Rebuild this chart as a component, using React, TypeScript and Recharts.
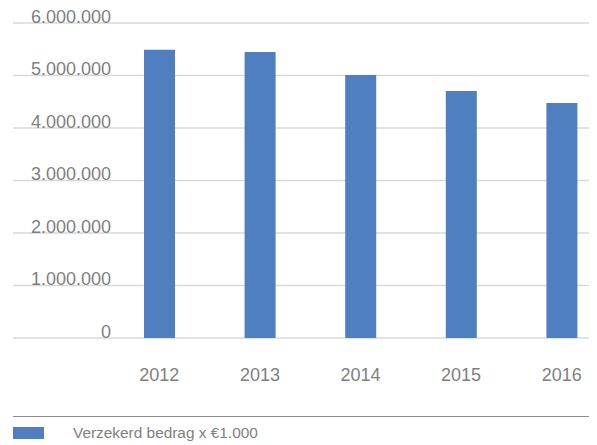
import { BarChart, Bar, CartesianGrid, XAxis, YAxis, Legend } from "recharts"

const years = ["2012", "2013", "2014", "2015", "2016"]
const amounts = [5490000, 5450000, 5010000, 4705000, 4475000]
const yTicks = [0, 1000000, 2000000, 3000000, 4000000, 5000000, 6000000]

const seriesName = "Verzekerd bedrag x €1.000"

const data = years.map((year, i) => ({ year, value: amounts[i] }))

const gray = "#7f7f7f"
const blue = "#4f7fc1"
const font = "'Liberation Sans', Arial, sans-serif"

const fmt = (v: number) => v.toLocaleString("de-DE")

function YTick(props: any) {
  const { y, payload } = props
  return (
    <text x={103} y={y - 6.5} dy="0.355em" textAnchor="end" fill={gray} fontSize={18} fontFamily={font}>
      {fmt(payload.value)}
    </text>
  )
}

function LegendBox() {
  return (
    <div style={{ marginLeft: 5, width: 584, height: 29, borderTop: "1px solid #8c8c8c", position: "relative", fontFamily: font }}>
      <div style={{ position: "absolute", left: 0, top: 10, width: 31, height: 12, background: blue }} />
      <span style={{ position: "absolute", left: 60, top: 7, fontSize: 15.4, color: gray, whiteSpace: "nowrap" }}>{seriesName}</span>
    </div>
  )
}

export default function App() {
  return (
    <div style={{ width: 589, height: 437, overflow: "hidden" }}>
      <BarChart width={604} height={437} data={data} margin={{ top: 15, right: 0, left: 5, bottom: 0 }}>
        <CartesianGrid vertical={false} stroke="#d9d9d9" strokeWidth={1.5} />
        <XAxis
          dataKey="year"
          axisLine={false}
          tickLine={false}
          tickSize={0}
          tickMargin={30}
          height={78}
          padding={{ left: 96, right: 0 }}
          tick={{ fill: gray, fontSize: 18, fontFamily: font }}
        />
        <YAxis
          mirror
          width={100}
          domain={[0, 6000000]}
          ticks={yTicks}
          interval={0}
          axisLine={false}
          tickLine={false}
          tick={<YTick />}
        />
        <Legend verticalAlign="bottom" align="left" wrapperStyle={{ left: 0, width: 604, height: 29 }} content={<LegendBox />} />
        <Bar dataKey="value" name={seriesName} fill={blue} barSize={31} isAnimationActive={false} />
      </BarChart>
    </div>
  )
}
